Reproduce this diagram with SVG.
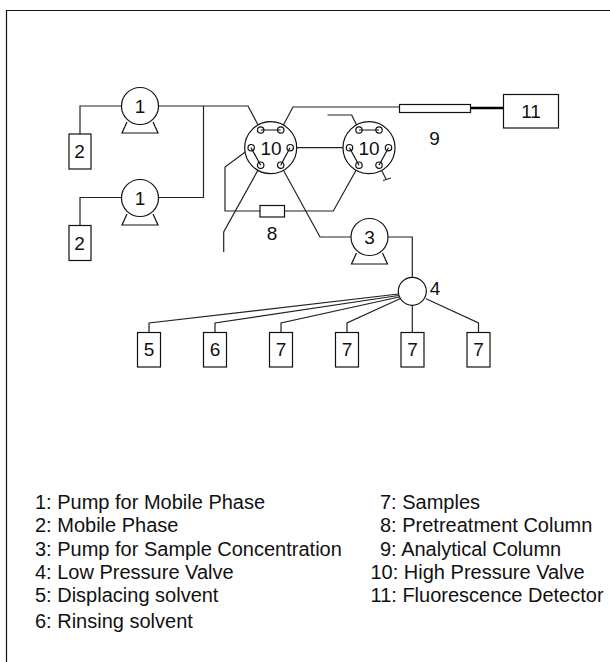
<svg xmlns="http://www.w3.org/2000/svg" width="610" height="662" viewBox="0 0 610 662">
<style>
text{font-family:"Liberation Sans",Arial,sans-serif;fill:#111}
.n{font-size:19px;text-anchor:middle}
.l{font-size:20px}
.s{fill:#fff;stroke:#111;stroke-width:1.2}
.p{fill:none;stroke:#111;stroke-width:1.2}
.c{fill:none;stroke:#222;stroke-width:1.2;stroke-linejoin:miter}
</style>
<defs>
<g id="pump"><path class="p" d="M-13 16L-18 27H18L13 16"/><circle class="s" r="18.5"/></g>
<g id="valve"><circle class="s" r="26"/><g class="p"><circle cx="-10" cy="-17.7" r="3.200"/><circle cx="10" cy="-17.7" r="3.200"/><circle cx="-19.5" cy="0" r="3.200"/><circle cx="19.5" cy="0" r="3.200"/><circle cx="-10" cy="17.5" r="3.200"/><circle cx="10" cy="17.5" r="3.200"/></g></g>
</defs>
<rect width="610" height="662" fill="#fff"/>
<path d="M6.5 662V10.5H610" fill="none" stroke="#111" stroke-width="1.2"/>
<g id="connectors" class="c">
<path d="M80 134V106H122M158 106H248L260.7 130"/>
<path d="M80 225V197.5H122M158 197.5H203.5V106"/>
<path d="M280.7 130L293 107H400"/>
<path d="M470 108H503" style="stroke-width:2.4;stroke:#000"/>
<path d="M251 147.7L225 167V211H260M284 211H333.3L359 165"/>
<path d="M260.7 165.2L223.7 232V252"/>
<path d="M280.7 165.2L320 237H351M388 237H412.3V278"/>
<path d="M290 147.7H349.5"/>
<path d="M359 130L351.7 115H327.5"/>
<path d="M379 165.2L386 179M383 180.5L391 178"/>
<path d="M398.5 294L149 323V332M398.5 295.5L215 323V332M399 297L281 323V332M400.5 298.5L347 323V332M412.3 305V332M426 298.7L478.5 323V332"/>
</g>
<g id="pump1a"><use href="#pump" x="140" y="106"/><text class="n" x="140" y="113">1</text></g>
<g id="pump1b"><use href="#pump" x="140" y="198"/><text class="n" x="140" y="205">1</text></g>
<g id="box2a"><rect class="s" x="69" y="134" width="22" height="35"/><text class="n" x="79.5" y="158">2</text></g>
<g id="box2b"><rect class="s" x="69" y="225.5" width="22" height="35"/><text class="n" x="79.5" y="250">2</text></g>
<g id="valve10a"><use href="#valve" x="270.7" y="147.7"/><path class="p" d="M260.7 130H280.7M251 147.7L260.7 165.2M290 147.7L280.7 165.2"/><text class="n" x="271" y="155">10</text></g>
<g id="valve10b"><use href="#valve" x="369" y="147.7"/><path class="p" d="M359 130H379M349.5 147.7L359 165.2M388.5 147.7L379 165.2"/><text class="n" x="369" y="155">10</text></g>
<g id="column9"><rect class="s" x="399.5" y="104.5" width="71" height="8"/><text class="n" x="434.5" y="145">9</text></g>
<g id="detector11"><rect class="s" x="503.5" y="94.5" width="55" height="33.5"/><text class="n" x="531" y="118">11</text></g>
<g id="column8"><rect class="s" x="260" y="205.5" width="24.5" height="11.5"/><text class="n" x="272" y="240">8</text></g>
<g id="pump3"><use href="#pump" x="369.5" y="237"/><text class="n" x="369.5" y="244">3</text></g>
<g id="valve4"><circle class="s" cx="412.3" cy="291.3" r="14"/><text class="n" x="435" y="295">4</text></g>
<g id="box5"><rect class="s" x="137.5" y="332.5" width="23" height="34.5"/><text class="n" x="149" y="356">5</text></g>
<g id="box6"><rect class="s" x="203.5" y="332.5" width="23" height="34.5"/><text class="n" x="215" y="356">6</text></g>
<g id="box7a"><rect class="s" x="269.5" y="332.5" width="23" height="34.5"/><text class="n" x="281" y="356">7</text></g>
<g id="box7b"><rect class="s" x="335.5" y="332.5" width="23" height="34.5"/><text class="n" x="347" y="356">7</text></g>
<g id="box7c"><rect class="s" x="401" y="332.5" width="23" height="34.5"/><text class="n" x="412.5" y="356">7</text></g>
<g id="box7d"><rect class="s" x="467" y="332.5" width="23" height="34.5"/><text class="n" x="478.5" y="356">7</text></g>
<g id="legend">
<text class="l" x="35" y="509">1: Pump for Mobile Phase</text>
<text class="l" x="35" y="532">2: Mobile Phase</text>
<text class="l" x="35" y="556">3: Pump for Sample Concentration</text>
<text class="l" x="35" y="579">4: Low Pressure Valve</text>
<text class="l" x="35" y="602">5: Displacing solvent</text>
<text class="l" x="35" y="628">6: Rinsing solvent</text>
<text class="l" x="380" y="509">7: Samples</text>
<text class="l" x="380" y="532">8: Pretreatment Column</text>
<text class="l" x="380" y="556">9: Analytical Column</text>
<text class="l" x="370.5" y="579">10: High Pressure Valve</text>
<text class="l" x="370.5" y="602">11: Fluorescence Detector</text>
</g>
</svg>
